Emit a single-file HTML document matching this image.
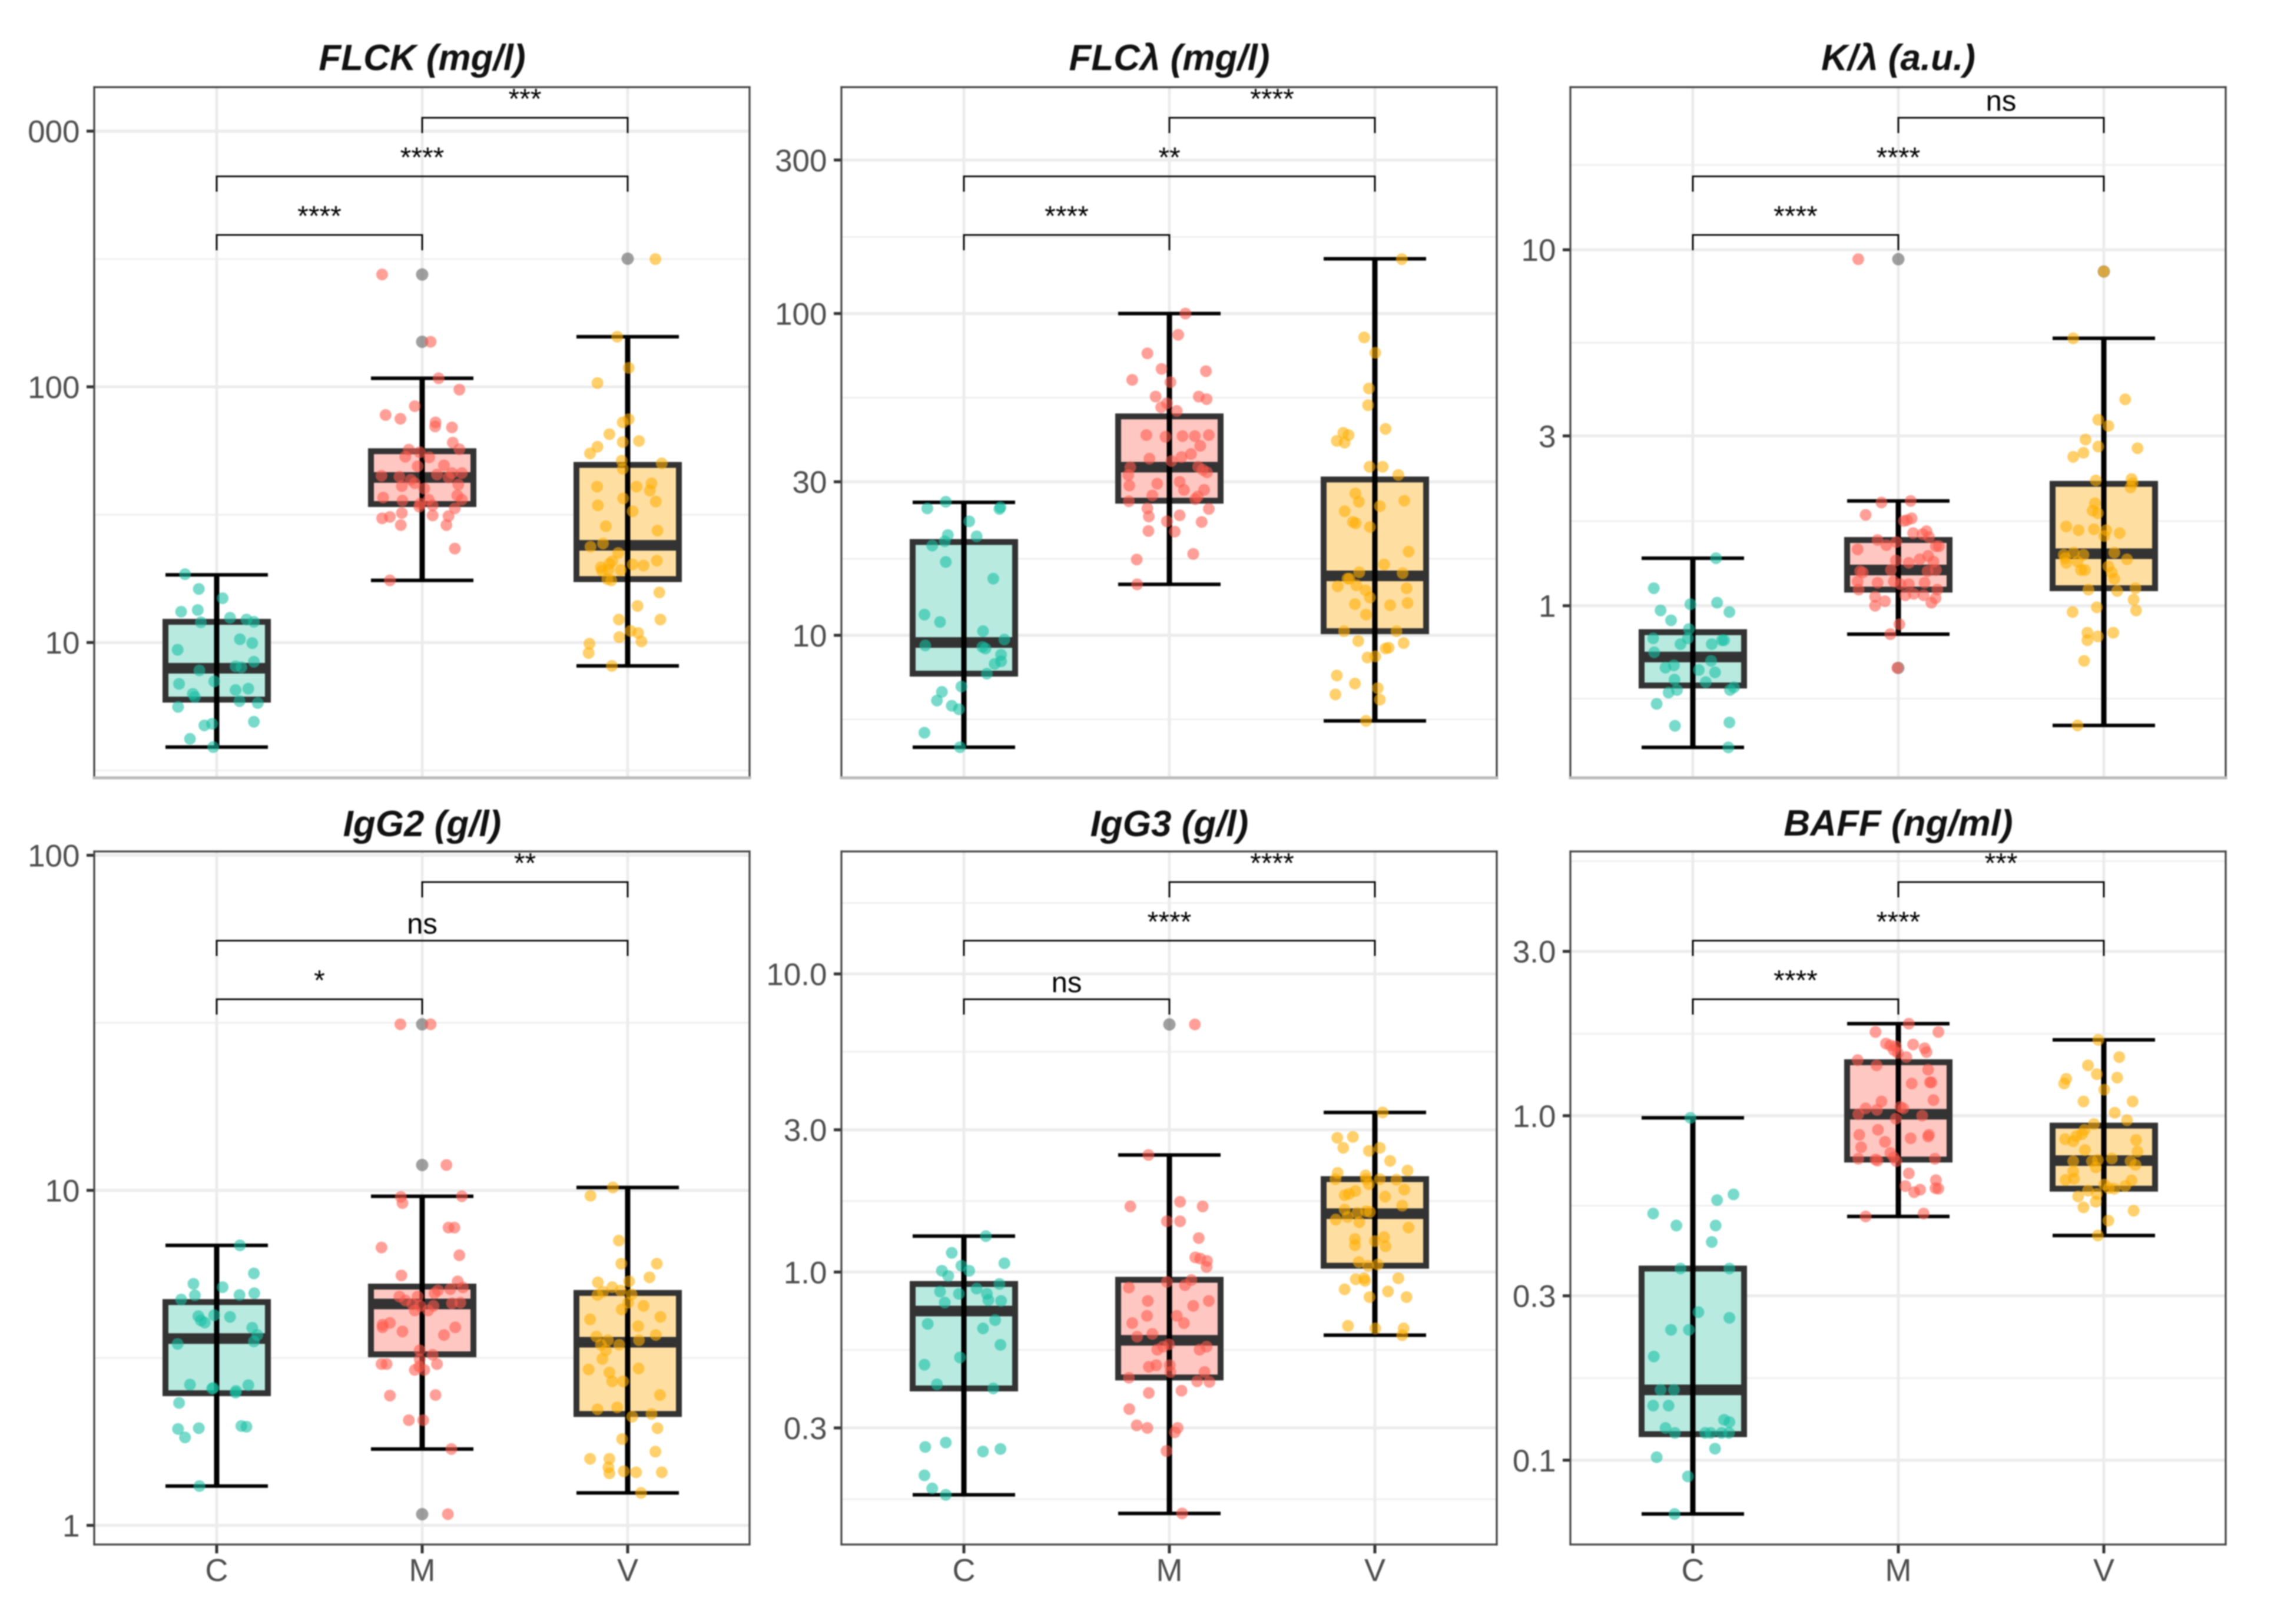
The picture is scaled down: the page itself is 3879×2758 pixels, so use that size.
<!DOCTYPE html>
<html lang="en">
<head>
<meta charset="utf-8">
<title>Boxplots by group</title>
<style>
html,body{margin:0;padding:0;background:#fff;}
svg{display:block;font-family:"Liberation Sans",Arial,sans-serif;filter:blur(1.1px);}
.ttl{font-size:62px;font-weight:bold;font-style:italic;fill:#111;text-anchor:middle;}
</style>
</head>
<body>
<svg id="fig" width="3879" height="2758" viewBox="0 0 3879 2758">
<rect x="0" y="0" width="3879" height="2758" fill="#fff"/>
<text class="ttl" x="717" y="119">FLCK (mg/l)</text>
<text class="ttl" x="1986" y="119">FLCλ (mg/l)</text>
<text class="ttl" x="3224" y="119">K/λ (a.u.)</text>
<text class="ttl" x="717" y="1420">IgG2 (g/l)</text>
<text class="ttl" x="1986" y="1420">IgG3 (g/l)</text>
<text class="ttl" x="3224" y="1419">BAFF (ng/ml)</text>
</svg>
<script>
const categories = ['C','M','V'];
const fillColors = ['#b5e9df','#ffc5bf','#ffdd9e'];
const dotColors = ['#17bfa3','#ff5a4b','#ffae00'];

/* ---------- FLCK ---------- */
const flckDomainLog = [0.4708,3.172];
const flckTicks = [10,100,1000];
const flckTickLabels = ['10','100','000'];
const flckMinor = [3.16,31.6,316];
const flckWhiskLow = [3.9,17.5,8.1];
const flckQ1 = [5.98,34.8,17.7];
const flckMedian = [7.93,44.2,24];
const flckQ3 = [12.05,56,49.5];
const flckWhiskHigh = [18.4,108,157];
const flckOutlierCat = [1,1,2];
const flckOutlierVal = [275,150,317];
const flckSig = ['****','****','***'];
const flckCVal = [18.5,16.2,14.9,13.2,13.4,12,12.5,12.3,12.05,10.3,9.95,9.37,8.41,8.07,8,7.78,7.05,6.89,6.52,6.6,6.3,6.12,5.9,5.8,5.6,4.9,4.74,4.81,4.2,3.9];
const flckCJit = [-.154,-.087,.029,-.173,-.092,-.077,.065,.145,.181,.113,.173,-.19,.181,.092,.12,-.084,-.012,-.183,.092,.154,-.116,-.106,.111,.2,-.188,.181,-.06,-.022,-.13,-.017];
const flckMVal = [275,150,108,97.5,84,77.6,75,72.6,70,69.4,60.5,57,56.8,55.5,53.3,53,48.9,49.3,46,46,44.9,44.5,45.4,44.2,43.3,42,40.9,41.5,40,37.6,36.2,36.9,35.9,36.2,34.9,34.4,34,33.5,32.1,31.4,31,30.6,31.2,28.8,28.8,23.3,17.5];
const flckMJit = [-.195,.041,.08,.181,-.036,-.178,-.106,.065,.063,.145,.149,.181,-.065,-.012,-.082,.034,-.022,.106,.145,.193,-.198,-.111,.072,.128,-.055,-.036,-.099,.176,.01,.171,.193,-.19,-.096,.031,-.01,.051,-.014,.159,-.099,.051,-.157,-.195,.128,-.104,.118,.159,-.157];
const flckVVal = [316,157,118.6,103.5,74.7,72.6,65.3,60.8,61.4,58.3,54.9,51.4,50.2,47.8,40.7,40.7,41.9,39.3,36.6,35.6,34.4,32.6,28.5,27.4,24.4,23.7,22.4,20.8,20.3,20.9,20.2,20,19.7,19.2,19.1,19.2,17.7,17.5,15.7,13.9,12.3,12.3,11.1,10.9,10.5,10.1,9.9,9.1,8.1];
const flckVJit = [.135,-.051,.005,-.147,.005,-.024,-.089,-.024,.055,-.147,-.183,-.029,.166,-.024,-.149,.043,.116,.108,-.022,.137,-.145,.024,-.106,.145,-.12,-.181,-.046,-.075,-.089,.142,.024,.077,-.13,-.094,-.125,-.034,-.099,-.08,.154,.048,-.043,.159,.014,.051,-.041,.067,-.186,-.19,-.077];

/* ---------- FLC lambda ---------- */
const flclDomainLog = [0.557,2.7036];
const flclTicks = [10,30,100,300];
const flclTickLabels = ['10','30','100','300'];
const flclMinor = [5.48,17.3,54.8,173];
const flclWhiskLow = [4.49,14.4,5.42];
const flclQ1 = [7.6,26.2,10.3];
const flclMedian = [9.5,33.3,15.3];
const flclQ3 = [19.5,47.9,30.5];
const flclWhiskHigh = [25.9,100,148];
const flclOutlierCat = [];
const flclOutlierVal = [];
const flclSig = ['****','**','****'];
const flclCVal = [26,24.8,25,24.7,22.6,20.5,20.3,19.6,19,16.9,15,11.6,11,10.3,9.7,9.3,9.2,9.1,8.7,8.3,8.15,7.6,6.93,6.67,6.27,6.04,5.89,4.98,4.49];
const flclCJit = [-.088,-.178,.178,.173,.026,-.078,.062,-.093,-.154,-.088,.143,-.192,-.116,.093,.197,-.188,.09,.105,.181,.181,.15,.112,-.012,-.107,-.131,-.059,-.024,-.192,-.019];
const flclMVal = [100,85.9,75.2,67.3,66.2,62.2,61.2,55.2,55.2,54.2,52.6,51.1,49.8,41.9,41.4,41.6,41.6,41.9,36.6,35.8,38.8,35.4,34.8,33.3,33.4,32.7,32.1,31.5,29.6,30,29.2,28.3,28.3,27.2,27,26.5,26.1,24.8,24.7,23.4,23.6,22.6,22.5,21.1,21,17.9,17.2,14.4];
const flclMJit = [.078,.043,-.107,-.038,.178,-.181,.005,-.067,.143,.181,-.012,-.04,.036,-.112,-.019,.064,.124,.192,.105,.059,.15,-.097,.01,-.19,.14,.162,.183,-.2,-.059,.05,-.195,.071,.169,-.083,.138,.126,-.197,-.107,.192,-.1,.05,-.012,.157,-.102,.026,.116,-.159,-.157];
const flclVVal = [147.6,84.3,75.5,58.5,51.9,43.8,42.6,41.9,40.2,39.7,33.4,33.4,31.5,27.6,26,26.2,25.2,24.3,22.5,22.3,21.7,18.2,16.6,15.7,15.6,15,15,14.2,14.3,13.8,14,13.1,12.5,12.4,12.6,11.6,10.3,10.3,9.6,9.46,9.1,9.15,8.53,8.6,7.5,7.08,6.85,6.55,6.31,5.42];
const flclVJit = [.131,-.052,.002,-.029,-.033,.052,-.154,-.128,-.185,-.147,-.026,.038,.114,-.095,-.078,.143,.024,-.147,-.107,-.093,-.024,.164,.045,-.076,.135,-.133,-.124,-.181,-.09,-.045,.154,-.024,-.097,.074,.159,-.043,-.15,.105,-.081,.14,.052,.067,-.036,.002,-.185,-.097,.014,-.192,.024,-.043];

/* ---------- K/lambda ---------- */
const klDomainLog = [-0.4835,1.4569];
const klTicks = [1,3,10];
const klTickLabels = ['1','3','10'];
const klMinor = [0.548,1.73,5.48,17.3];
const klWhiskLow = [0.40,0.832,0.461];
const klQ1 = [0.597,1.11,1.12];
const klMedian = [0.718,1.26,1.4];
const klQ3 = [0.843,1.53,2.2];
const klWhiskHigh = [1.36,1.97,5.64];
const klOutlierCat = [1,1,2];
const klOutlierVal = [9.41,0.669,8.69];
const klSig = ['****','****','ns'];
const klCVal = [1.36,1.12,.97,1.01,1.02,.96,.91,.86,.81,.81,.78,.78,.8,.8,.74,.7,.67,.68,.66,.65,.62,.61,.57,.58,.58,.59,.53,.47,.46,.4];
const klCJit = [.113,-.19,-.157,-.012,.118,.178,-.106,-.019,-.024,-.193,-.06,.092,.142,.152,-.188,.089,-.133,-.092,.029,.108,-.089,.063,-.118,-.077,.181,.2,-.176,.178,-.087,.173];
const klMVal = [9.41,1.95,1.97,1.8,1.73,1.74,1.76,1.6,1.59,1.62,1.56,1.53,1.48,1.51,1.47,1.47,1.44,1.38,1.33,1.34,1.32,1.35,1.26,1.25,1.24,1.26,1.25,1.17,1.16,1.15,1.16,1.17,1.15,1.11,1.11,1.07,1.08,1.07,1.06,1.05,1.02,1.03,1,.887,.832,.669];
const klMJit = [-.195,-.082,.06,-.159,.027,.043,.065,.072,.118,.137,.149,-.101,-.058,-.01,.183,.198,-.198,.145,.171,-.012,.051,.104,.183,-.186,-.173,-.036,.142,-.022,-.101,.051,.128,-.198,.01,-.193,.19,.034,.075,.123,-.113,.181,.161,-.065,-.113,.005,-.039,-.005];
const klVVal = [8.69,5.64,3.8,3.33,3.2,2.93,2.8,2.77,2.69,2.62,2.25,2.27,2.21,2.15,1.94,1.85,1.82,1.67,1.63,1.64,1.63,1.57,1.6,1.39,1.41,1.39,1.41,1.36,1.32,1.33,1.35,1.26,1.26,1.29,1.24,1.19,1.11,1.1,1.12,1.04,.99,.96,.97,.84,.84,.82,.8,.7,.461];
const klVJit = [0,-.149,.104,-.027,.022,-.089,-.027,.164,-.099,-.149,-.039,.135,.14,.13,-.043,-.055,-.029,-.183,-.123,-.048,.012,.002,.077,-.195,-.147,-.099,.051,-.188,-.183,-.128,.113,-.111,-.092,.022,.039,.051,-.075,.065,.154,.145,-.034,-.152,.157,-.08,.046,-.029,-.08,-.096,-.128];

/* ---------- IgG2 ---------- */
const igg2DomainLog = [-0.0571,2.0114];
const igg2Ticks = [1,10,100];
const igg2TickLabels = ['1','10','100'];
const igg2Minor = [3.16,31.6];
const igg2WhiskLow = [1.31,1.69,1.25];
const igg2Q1 = [2.48,3.24,2.15];
const igg2Median = [3.61,4.58,3.52];
const igg2Q3 = [4.64,5.16,4.94];
const igg2WhiskHigh = [6.85,9.6,10.2];
const igg2OutlierCat = [1,1,1];
const igg2OutlierVal = [31.3,11.9,1.08];
const igg2Sig = ['*','ns','**'];
const igg2CVal = [6.85,5.65,5.26,5.14,4.93,4.87,4.86,4.72,4.24,4.21,4.19,4.09,4.03,3.89,3.7,3.54,3.48,2.63,2.62,2.57,2.56,2.52,2.49,2.32,1.94,1.95,1.98,1.97,1.83,1.31];
const igg2CJit = [.113,.181,-.113,.029,.183,.111,-.106,-.173,-.012,-.089,.065,-.077,-.058,.173,.198,.181,-.19,-.13,.154,-.017,-.022,.094,.092,-.183,-.188,-.087,.12,.145,-.154,-.084];
const igg2MVal = [31.3,31.3,11.9,9.56,9.6,9.16,7.74,7.74,6.75,6.4,5.57,5.35,5.07,5.13,5.03,4.93,4.82,4.82,4.69,4.6,4.62,4.57,4.52,4.52,4.38,4.38,4.02,3.97,3.9,3.9,3.79,3.7,3.33,3.23,3.13,3.03,3.03,3.03,2.98,2.91,2.91,2.44,2.45,2.06,2.06,1.69,1.08];
const igg2MJit = [-.106,.041,.118,-.104,.193,-.096,.128,.157,-.198,.181,-.101,.173,.137,.198,.077,.06,-.111,-.022,-.082,.145,.186,-.048,-.01,.055,-.036,.029,-.157,-.193,-.193,.161,-.096,.106,-.012,.051,-.012,-.198,-.173,.072,-.014,-.036,.01,-.157,.065,-.065,.005,.142,.125];
const igg2VVal = [10.2,9.63,7.08,6.04,6.04,5.5,5.31,5.35,5.14,5.02,4.98,4.87,4.89,4.62,4.41,4.52,4.19,4.12,3.93,3.66,3.7,3.57,3.57,3.46,3.46,3.33,3.14,2.92,2.94,2.86,2.69,2.69,2.45,2.22,2.25,2.15,2.11,1.95,1.81,1.66,1.58,1.58,1.49,1.43,1.45,1.44,1.44,1.25];
const igg2VJit = [-.072,-.181,-.043,-.031,.142,.106,-.145,.007,-.075,-.034,-.12,-.147,.019,.002,-.029,.077,.159,-.183,.051,-.152,.137,-.096,.055,-.13,-.041,-.106,-.123,-.19,.053,-.089,-.075,-.022,.157,-.147,-.051,.116,.022,.145,-.027,.135,-.183,-.089,-.094,-.089,-.019,.041,.166,.065];

/* ---------- IgG3 ---------- */
const igg3DomainLog = [-0.9139,1.4108];
const igg3Ticks = [0.3,1,3,10];
const igg3TickLabels = ['0.3','1.0','3.0','10.0'];
const igg3Minor = [0.173,0.548,1.73,5.48,17.3];
const igg3WhiskLow = [0.179,0.155,0.614];
const igg3Q1 = [0.407,0.443,1.05];
const igg3Median = [0.74,0.59,1.57];
const igg3Q3 = [0.912,0.942,2.05];
const igg3WhiskHigh = [1.32,2.47,3.43];
const igg3OutlierCat = [1];
const igg3OutlierVal = [6.77];
const igg3Sig = ['ns','****','****'];
const igg3CVal = [1.32,1.16,1.07,1.05,1.01,1.01,.97,.912,.88,.86,.845,.845,.805,.8,.79,.67,.69,.647,.57,.517,.489,.42,.407,.259,.268,.25,.255,.208,.188,.179];
const igg3CJit = [.107,-.059,.197,-.012,-.107,.026,-.076,.173,.062,-.116,-.024,.112,.119,.181,-.093,-.176,.152,.093,.178,-.019,-.192,-.131,.143,-.188,-.088,.093,.178,-.192,-.154,-.088];
const igg3MVal = [6.77,2.47,1.72,1.66,1.66,1.48,1.48,1.3,1.12,1.11,1.09,1.04,.927,.94,.904,.887,.8,.8,.77,.713,.713,.674,.674,.62,.607,.572,.562,.549,.549,.562,.487,.481,.487,.462,.462,.442,.43,.428,.4,.393,.347,.306,.3,.3,.29,.251,.155];
const igg3MJit = [.124,-.102,.052,-.19,.162,-.012,.052,.143,.126,.15,.183,.181,-.012,.107,.076,-.197,-.105,.192,.116,-.109,.036,-.181,.071,-.083,-.157,-.002,-.031,-.059,.147,.181,.002,-.1,-.064,.005,.171,-.197,.135,.195,.059,-.1,-.195,-.159,-.107,.04,.026,-.014,.062];
const igg3VVal = [3.43,2.82,2.84,2.61,2.61,2.55,2.36,2.19,2.15,2.05,2.11,2.05,2.05,2.04,1.97,1.89,1.87,1.83,1.81,1.79,1.67,1.62,1.58,1.6,1.59,1.53,1.5,1.47,1.41,1.29,1.31,1.27,1.23,1.22,1.08,1.05,1.06,.946,.953,.934,.953,.875,.861,.824,.824,.66,.647,.647,.614];
const igg3VJit = [.038,-.183,-.107,-.154,.024,-.029,.074,.159,-.181,-.192,-.045,-.043,.024,.105,-.029,.143,-.095,-.126,-.147,.05,.133,-.147,-.086,-.043,-.024,-.133,-.19,-.076,.164,-.097,.045,0,-.097,.052,-.078,-.033,.014,-.093,-.052,-.048,.114,-.147,.064,-.026,.154,-.131,.002,.14,.133];

/* ---------- BAFF ---------- */
const baffDomainLog = [-1.2448,0.7672];
const baffTicks = [0.1,0.3,1,3];
const baffTickLabels = ['0.1','0.3','1.0','3.0'];
const baffMinor = [0.173,0.548,1.73,5.48];
const baffWhiskLow = [0.0698,0.51,0.449];
const baffQ1 = [0.119,0.746,0.614];
const baffMedian = [0.16,1.01,0.741];
const baffQ3 = [0.36,1.43,0.936];
const baffWhiskHigh = [0.986,1.85,1.66];
const baffOutlierCat = [];
const baffOutlierVal = [];
const baffSig = ['****','****','***'];
const baffCVal = [.986,.591,.569,.52,.48,.48,.43,.36,.36,.269,.259,.239,.239,.2,.16,.16,.144,.144,.131,.129,.124,.12,.12,.12,.12,.12,.108,.102,.0897,.0698];
const baffCJit = [-.012,.198,.118,-.193,-.08,.111,.092,-.06,.178,.027,.178,-.106,-.019,-.19,-.157,-.092,-.193,-.118,.152,.178,-.133,-.087,.06,.087,.14,.176,.108,-.176,-.024,-.089];
const baffMVal = [1.85,1.75,1.75,1.62,1.6,1.59,1.61,1.57,1.53,1.55,1.52,1.48,1.45,1.4,1.36,1.24,1.25,1.25,1.11,1.1,1.05,1.04,1.06,1.05,1.01,1,.98,.88,.91,.84,.86,.87,.88,.81,.78,.75,.746,.741,.757,.738,.75,.68,.65,.625,.6,.61,.616,.614,.51,.52];
const baffMJit = [.051,-.111,.195,-.06,-.039,-.012,.072,.128,.137,-.022,-.002,.039,-.198,-.106,.145,.065,.154,.161,.171,-.082,-.159,-.104,.01,.024,-.195,.116,-.012,-.19,-.099,-.065,.06,.145,.149,-.181,-.039,-.195,-.111,-.101,-.022,-.01,.178,.051,.183,.034,.077,.106,.181,.195,-.159,.123];
const baffVVal = [1.66,1.48,1.4,1.32,1.29,1.28,1.24,1.19,1.1,1.1,1.02,.97,.946,.91,.885,.873,.855,.843,.85,.795,.787,.738,.738,.744,.751,.738,.72,.708,.689,.651,.656,.649,.631,.616,.614,.625,.606,.593,.583,.563,.542,.53,.496,.449];
const baffVJit = [-.027,.075,-.077,-.034,.065,-.183,-.193,.002,-.099,.14,.053,.113,-.048,-.094,-.106,-.133,-.188,-.149,.157,-.092,.164,-.149,-.058,-.029,.039,.13,.154,-.039,-.149,-.186,-.145,.135,.002,.024,.051,.104,-.077,-.034,-.125,-.039,-.099,.145,.022,-.029];

/* ---------- drawing ---------- */
const svgNS = 'http://www.w3.org/2000/svg';
const fig = document.getElementById('fig');
function mk(parent, tag, attrs){
  const el = document.createElementNS(svgNS, tag);
  for (const k in attrs) el.setAttribute(k, attrs[k]);
  parent.appendChild(el);
  return el;
}

function drawPanel(cfg){
  const W = 1113, catStart = 208, catStep = 349;
  const L = cfg.left, R = L + W, T = cfg.top, B = cfg.bottom;
  const xOf = (i, j) => L + catStart + catStep * (i + (j || 0));
  const yOf = v => B - (Math.log10(v) - cfg.domain[0]) / (cfg.domain[1] - cfg.domain[0]) * (B - T);
  const g = mk(fig, 'g', {});
  
  

  /* grid */
  cfg.minor.forEach(v => {
    const y = yOf(v);
    if (y < T || y > B) return;
    const l = mk(g, 'line', {x1:L, x2:R, y1:y, y2:y, stroke:'#f0f0f0', 'stroke-width':3});
    
    
  });
  cfg.ticks.forEach(v => {
    const y = yOf(v);
    const l = mk(g, 'line', {x1:L, x2:R, y1:y, y2:y, stroke:'#ececec', 'stroke-width':5});
    
    
  });
  categories.forEach((c, i) => {
    const l = mk(g, 'line', {x1:xOf(i), x2:xOf(i), y1:T, y2:B, stroke:'#ececec', 'stroke-width':5});
    
    
  });

  /* y ticks and labels */
  cfg.ticks.forEach((v, i) => {
    const y = yOf(v);
    const t = mk(g, 'line', {x1:L-13, x2:L, y1:y, y2:y, stroke:'#333', 'stroke-width':5});
    
    
    const s = mk(g, 'text', {x:L-24.5, y:y+19, 'text-anchor':'end', 'font-size':53, fill:'#4d4d4d'});
    s.textContent = cfg.tickLabels[i];
    
    
  });

  /* x ticks and labels on the bottom row only */
  if (cfg.showX) categories.forEach((c, i) => {
    const t = mk(g, 'line', {x1:xOf(i), x2:xOf(i), y1:B, y2:B+15, stroke:'#333', 'stroke-width':5});
    
    
    const s = mk(g, 'text', {x:xOf(i), y:B+62, 'text-anchor':'middle', 'font-size':54, fill:'#4d4d4d'});
    s.textContent = c;
    
    
  });

  /* boxes */
  categories.forEach((c, i) => {
    const x = xOf(i), hw = 87;
    const box = mk(g, 'rect', {x:x-hw, y:yOf(cfg.q3[i]), width:hw*2, height:yOf(cfg.q1[i])-yOf(cfg.q3[i]), fill:fillColors[i], 'fill-opacity':0.96, stroke:'#333', 'stroke-width':10});
    
    
    const med = mk(g, 'line', {x1:x-hw, x2:x+hw, y1:yOf(cfg.med[i]), y2:yOf(cfg.med[i]), stroke:'#333', 'stroke-width':18});
    
    
    const w = mk(g, 'line', {x1:x, x2:x, y1:yOf(cfg.whiskHigh[i]), y2:yOf(cfg.whiskLow[i]), stroke:'#000', 'stroke-width':9});
    
    
    const capTop = mk(g, 'line', {x1:x-87, x2:x+87, y1:yOf(cfg.whiskHigh[i]), y2:yOf(cfg.whiskHigh[i]), stroke:'#000', 'stroke-width':6});
    
    
    const capLow = mk(g, 'line', {x1:x-87, x2:x+87, y1:yOf(cfg.whiskLow[i]), y2:yOf(cfg.whiskLow[i]), stroke:'#000', 'stroke-width':6});
    
    
  });

  /* box-plot outliers (grey, on the category centre) */
  cfg.outCat.forEach((ci, k) => {
    const d = mk(g, 'circle', {cx:xOf(ci), cy:yOf(cfg.outVal[k]), r:10.5, fill:'#6e6e6e', 'fill-opacity':0.66});
    
    
  });

  /* jittered points */
  cfg.vals.forEach((arr, i) => {
    arr.forEach((v, k) => {
      const d = mk(g, 'circle', {cx:xOf(i, cfg.jits[i][k]), cy:yOf(v), r:10, fill:dotColors[i], 'fill-opacity':0.58});
      
      
    });
  });

  /* significance brackets: C-M, C-V, M-V */
  const pairs = [[0,1,251],[0,2,151.5],[1,2,52]];
  pairs.forEach((p, k) => {
    const y = T + p[2], x1 = xOf(p[0]), x2 = xOf(p[1]);
    const b = mk(g, 'polyline', {points:`${x1},${y+26} ${x1},${y} ${x2},${y} ${x2},${y+26}`, fill:'none', stroke:'#000', 'stroke-width':2.8});
    
    
    const isNs = cfg.sig[k] === 'ns';
    const s = mk(g, 'text', {x:(x1+x2)/2, y: isNs ? y-12 : y-16, 'text-anchor':'middle', 'font-size': isNs ? 49 : 48, fill:'#000'});
    s.textContent = cfg.sig[k];
    
    
  });

  /* panel border */
  const sides = [[L,T,R,T],[L,T,L,B],[R,T,R,B],[L,B,R,B]];
  sides.forEach((s, k) => {
    const soft = k === 3 && !cfg.showX;
    const e = mk(g, 'line', {x1:s[0], y1:s[1], x2:s[2], y2:s[3], stroke: soft ? '#bbbbbb' : '#444', 'stroke-width': soft ? 5 : 3.2, 'stroke-linecap':'square'});
    
    
  });
}

drawPanel({name:'panel-flck', left:160, top:148, bottom:1321, showX:false, domain:flckDomainLog, ticks:flckTicks, tickLabels:flckTickLabels, minor:flckMinor, whiskLow:flckWhiskLow, q1:flckQ1, med:flckMedian, q3:flckQ3, whiskHigh:flckWhiskHigh, outCat:flckOutlierCat, outVal:flckOutlierVal, sig:flckSig, vals:[flckCVal,flckMVal,flckVVal], jits:[flckCJit,flckMJit,flckVJit]});
drawPanel({name:'panel-flc-lambda', left:1429, top:148, bottom:1321, showX:false, domain:flclDomainLog, ticks:flclTicks, tickLabels:flclTickLabels, minor:flclMinor, whiskLow:flclWhiskLow, q1:flclQ1, med:flclMedian, q3:flclQ3, whiskHigh:flclWhiskHigh, outCat:flclOutlierCat, outVal:flclOutlierVal, sig:flclSig, vals:[flclCVal,flclMVal,flclVVal], jits:[flclCJit,flclMJit,flclVJit]});
drawPanel({name:'panel-kappa-lambda', left:2667, top:148, bottom:1321, showX:false, domain:klDomainLog, ticks:klTicks, tickLabels:klTickLabels, minor:klMinor, whiskLow:klWhiskLow, q1:klQ1, med:klMedian, q3:klQ3, whiskHigh:klWhiskHigh, outCat:klOutlierCat, outVal:klOutlierVal, sig:klSig, vals:[klCVal,klMVal,klVVal], jits:[klCJit,klMJit,klVJit]});
drawPanel({name:'panel-igg2', left:160, top:1446, bottom:2623, showX:true, domain:igg2DomainLog, ticks:igg2Ticks, tickLabels:igg2TickLabels, minor:igg2Minor, whiskLow:igg2WhiskLow, q1:igg2Q1, med:igg2Median, q3:igg2Q3, whiskHigh:igg2WhiskHigh, outCat:igg2OutlierCat, outVal:igg2OutlierVal, sig:igg2Sig, vals:[igg2CVal,igg2MVal,igg2VVal], jits:[igg2CJit,igg2MJit,igg2VJit]});
drawPanel({name:'panel-igg3', left:1429, top:1446, bottom:2623, showX:true, domain:igg3DomainLog, ticks:igg3Ticks, tickLabels:igg3TickLabels, minor:igg3Minor, whiskLow:igg3WhiskLow, q1:igg3Q1, med:igg3Median, q3:igg3Q3, whiskHigh:igg3WhiskHigh, outCat:igg3OutlierCat, outVal:igg3OutlierVal, sig:igg3Sig, vals:[igg3CVal,igg3MVal,igg3VVal], jits:[igg3CJit,igg3MJit,igg3VJit]});
drawPanel({name:'panel-baff', left:2667, top:1446, bottom:2623, showX:true, domain:baffDomainLog, ticks:baffTicks, tickLabels:baffTickLabels, minor:baffMinor, whiskLow:baffWhiskLow, q1:baffQ1, med:baffMedian, q3:baffQ3, whiskHigh:baffWhiskHigh, outCat:baffOutlierCat, outVal:baffOutlierVal, sig:baffSig, vals:[baffCVal,baffMVal,baffVVal], jits:[baffCJit,baffMJit,baffVJit]});
</script>
</body>
</html>
